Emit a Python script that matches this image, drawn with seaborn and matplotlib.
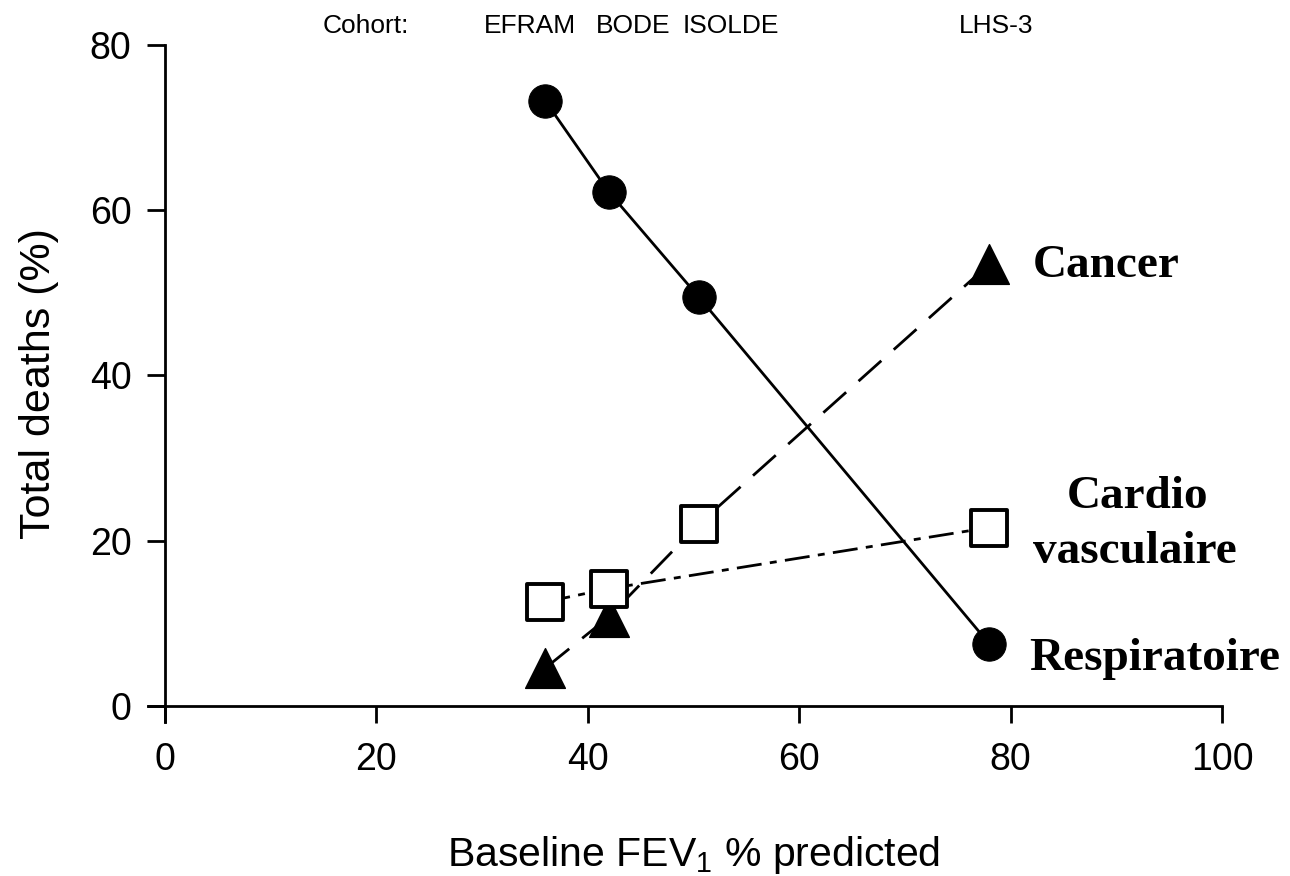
import matplotlib
matplotlib.use("Agg")
import matplotlib.pyplot as plt
from matplotlib import font_manager
import seaborn as sns
import pandas as pd

# Cohorts and their baseline FEV1 (% predicted)
cohorts = ["EFRAM", "BODE", "ISOLDE", "LHS-3"]
fev1 = [36, 42, 50.5, 78]

# Share of total deaths (%) by cause
respiratory = [73.2, 62.2, 49.5, 7.5]
cancer = [4.6, 10.8, 22.0, 53.5]
cardio = [12.6, 14.2, 22.0, 21.6]

# Cohort label positions along the top (in x units)
cohort_label_x = [34.5, 44.3, 53.5, 78.6]

sns.set_theme(style="white")
available = {f.name for f in font_manager.fontManager.ttflist}
sans = "Liberation Sans Narrow" if "Liberation Sans Narrow" in available else "Liberation Sans"
plt.rcParams["font.family"] = [sans, "DejaVu Sans"]
plt.rcParams["mathtext.fontset"] = "custom"
plt.rcParams["mathtext.rm"] = sans
plt.rcParams["lines.scale_dashes"] = False
plt.rcParams["text.color"] = "black"
plt.rcParams["axes.labelcolor"] = "black"

fig = plt.figure(figsize=(12.9, 8.76), dpi=100)
ax = fig.add_axes([148 / 1290, 1 - 722.5 / 876, (1222 - 148) / 1290, (722.5 - 45) / 876])

df = pd.DataFrame({"cohort": cohorts, "fev1": fev1, "resp": respiratory,
                   "cancer": cancer, "cardio": cardio})
lw = 2.0

# Respiratory: solid line with filled circles
sns.lineplot(data=df, x="fev1", y="resp", ax=ax, color="black", lw=lw,
             marker="o", markersize=24, markeredgecolor="black", sort=False)

# Cancer: long dashes through all four cohorts
sns.lineplot(data=df, x="fev1", y="cancer", ax=ax, color="black", lw=lw,
             linestyle=(0, (22, 12)), sort=False)
tri = df[df["cohort"] != "ISOLDE"]
sns.scatterplot(data=tri, x="fev1", y="cancer", ax=ax, color="black",
                marker="^", s=820, edgecolor="black", linewidth=1, zorder=4)

# Cardiovascular: dash-dot line, open squares
cv_line = df[df["cohort"] != "ISOLDE"]
sns.lineplot(data=cv_line, x="fev1", y="cardio", ax=ax, color="black", lw=lw,
             linestyle=(0, (18, 6, 5, 6)), sort=False)
sns.scatterplot(data=df, x="fev1", y="cardio", ax=ax, color="white",
                marker="s", s=640, edgecolor="black", linewidth=2.8, zorder=5)

ax.set_xlim(-1.6, 100)
ax.set_ylim(-2, 80)
ax.spines["left"].set_position(("data", 0))
ax.spines["bottom"].set_position(("data", 0))
for s in ("top", "right"):
    ax.spines[s].set_visible(False)
for s in ("left", "bottom"):
    ax.spines[s].set_linewidth(2.0)
    ax.spines[s].set_color("black")
ax.spines["bottom"].set_bounds(-1.6, 100)
ax.spines["left"].set_bounds(-2, 80)

ax.set_xticks([0, 20, 40, 60, 80, 100])
ax.set_yticks([0, 20, 40, 60, 80])
ax.tick_params(axis="x", direction="out", length=12, width=2.0, pad=14,
               labelsize=27, colors="black", bottom=True)
ax.tick_params(axis="y", direction="out", length=13, width=2.0, pad=11,
               labelsize=27, colors="black", left=True)

ax.set_xlabel(r"Baseline FEV$_{\mathregular{1}}$ % predicted", fontsize=29.5)
ax.xaxis.set_label_coords(0.508, -0.165)
ax.set_ylabel("Total deaths (%)", fontsize=31, labelpad=22)

# Cohort names along the top
tr = ax.get_xaxis_transform()
ax.text(19.0, 1.018, "Cohort:", transform=tr, ha="center", va="baseline", fontsize=19)
for name, xpos in zip(cohorts, cohort_label_x):
    ax.text(xpos, 1.018, name, transform=tr, ha="center", va="baseline", fontsize=19)

# Cause labels
serif = dict(family="Liberation Serif", fontweight="bold", fontsize=34, color="black")
ax.text(82.1, 51.9, "Cancer", ha="left", va="baseline", **serif)
ax.text(92.0, 24.0, "Cardio", ha="center", va="baseline", **serif)
ax.text(91.8, 17.3, "vasculaire", ha="center", va="baseline", **serif)
ax.text(81.8, 4.4, "Respiratoire", ha="left", va="baseline", **serif)

for t in ax.texts:
    t.set_clip_on(False)

fig.savefig("out.png", dpi=100)
